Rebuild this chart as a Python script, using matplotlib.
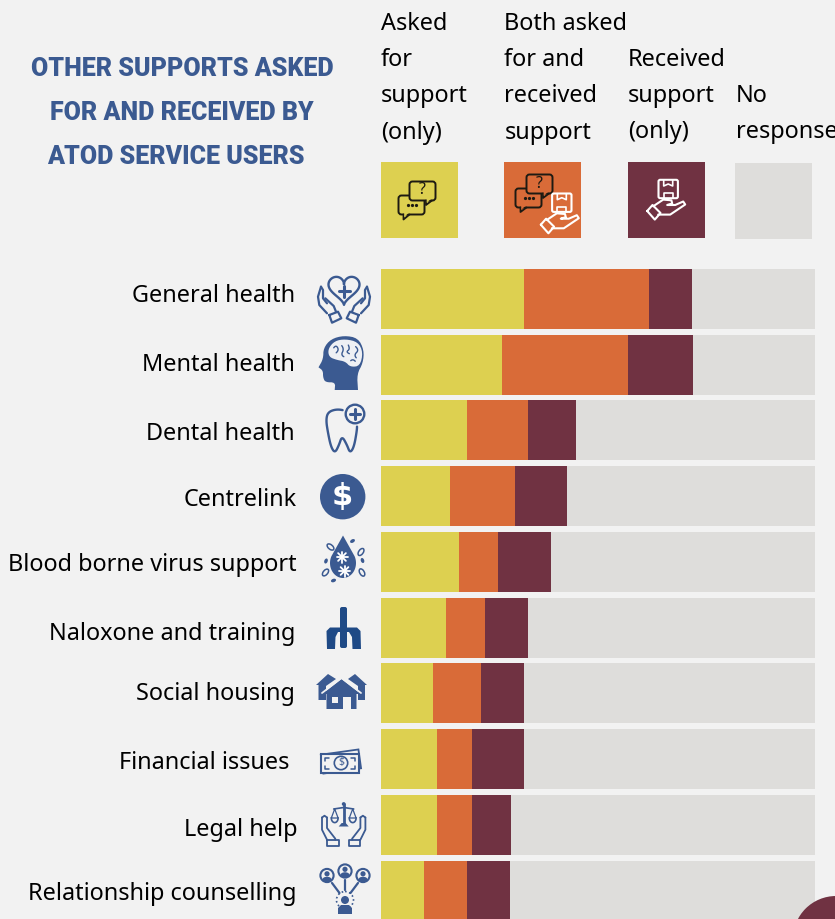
import numpy as np
import matplotlib
matplotlib.use('Agg')
import matplotlib.pyplot as plt
from matplotlib.patches import Circle, Ellipse, FancyBboxPatch, Polygon, Rectangle
from matplotlib.transforms import Affine2D

W, H = 835, 919

BG = '#f2f2f2'
BLUE = '#3b5a91'
YELLOW = '#ddd050'
ORANGE = '#d96b38'
MAROON = '#703242'
GREY = '#dedddb'
INK = '#1d1a12'

categories = ['General health', 'Mental health', 'Dental health', 'Centrelink',
              'Blood borne virus support', 'Naloxone and training', 'Social housing',
              'Financial issues', 'Legal help', 'Relationship counselling']

# percent of respondents in each group
asked_only = [32.9, 27.9, 19.8, 15.9, 18.0, 15.0, 12.0, 12.9, 12.9, 9.9]
both = [28.8, 29.0, 14.1, 15.0, 9.0, 9.0, 11.1, 8.1, 8.1, 9.9]
received_only = [9.9, 15.0, 11.1, 12.0, 12.2, 9.9, 9.9, 12.0, 9.0, 9.9]
no_response = [28.4, 28.1, 55.0, 57.1, 60.8, 66.1, 67.0, 67.0, 70.0, 70.3]

title_lines = ['OTHER SUPPORTS ASKED', 'FOR AND RECEIVED BY', 'ATOD SERVICE USERS']
legend_labels = ['Asked\nfor\nsupport\n(only)', 'Both asked\nfor and\nreceived\nsupport',
                 'Received\nsupport\n(only)', 'No\nresponse']

plt.rcParams['font.family'] = ['Noto Sans', 'DejaVu Sans']

fig = plt.figure(figsize=(W / 100, H / 100), dpi=100, facecolor=BG)


def smooth(pts, closed=False, rounds=3):
    # corner cutting, enough to round off the hand-placed icon outlines
    pts = np.asarray(pts, dtype=float)
    for _ in range(rounds):
        nxt = np.roll(pts, -1, axis=0)
        new = np.empty((len(pts) * 2, 2))
        new[0::2] = 0.75 * pts + 0.25 * nxt
        new[1::2] = 0.25 * pts + 0.75 * nxt
        pts = new if closed else new[:-2]
    return pts


def line(ax, pts, color=BLUE, lw=1.5, curve=False, closed=False, **kw):
    pts = smooth(pts, closed) if curve else np.asarray(pts, dtype=float)
    if closed:
        pts = np.vstack([pts, pts[:1]])
    ax.plot(pts[:, 0], pts[:, 1], color=color, lw=lw, solid_capstyle='round',
            solid_joinstyle='round', **kw)


def fill(ax, pts, color=BLUE, curve=False, **kw):
    pts = smooth(pts, True, 2) if curve else pts
    ax.add_patch(Polygon(pts, closed=True, fc=color, ec='none', **kw))


def mirror(pts, about):
    return [(2 * about - x, y) for x, y in pts]


def bubble(ax, x, y, w, h, tail, face, dots=False, question=False):
    # speech bubble with a small tail and either dots or a question mark
    tx = tail[0]
    fill(ax, [(tx - 1, y + h - 1), (tx, tail[1]), (tx + 6, y + h - 1)], face, zorder=3)
    line(ax, [(tx, y + h), (tx, tail[1]), (tx + 6, y + h)], INK, 1.3, zorder=4)
    ax.add_patch(FancyBboxPatch((x + 3, y + 3), w - 6, h - 6, boxstyle='round,pad=3',
                                fc=face, ec=INK, lw=1.4, zorder=3))
    fill(ax, [(tx + 0.7, y + h - 1.5), (tx + 0.7, tail[1] - 2.5), (tx + 5, y + h - 1.5)], face, zorder=4)
    if dots:
        ax.plot([x + 9, x + 13, x + 17], [y + h / 2] * 3, ls='none', marker='o', ms=1.3,
                color=INK, zorder=5)
    if question:
        ax.text(x + w / 2, y + h / 2 - 0.5, '?', ha='center', va='center', fontsize=11.5,
                color=INK, zorder=5)


def parcel_hand(ax, cx, cy, color='white'):
    # box held above an open hand, centred on the box
    ax.add_patch(FancyBboxPatch((cx - 8, cy - 7.5), 16, 15, boxstyle='round,pad=1.7',
                                fc='none', ec=color, lw=1.5, zorder=5))
    line(ax, [(cx - 4.5, cy - 9), (cx - 4.5, cy - 3), (cx, cy - 5), (cx + 4.5, cy - 3),
              (cx + 4.5, cy - 9)], color, 1.2, zorder=5)
    line(ax, [(cx - 4.5, cy + 9), (cx - 4.5, cy + 4), (cx + 4.5, cy + 4), (cx + 4.5, cy + 9)],
         color, 1.2, zorder=5)
    line(ax, [(cx - 21, cy + 22), (cx - 15.7, cy + 16), (cx - 7.7, cy + 24), (cx - 13.4, cy + 30.6),
              (cx - 21, cy + 22)], color, 1.5, zorder=5)
    line(ax, [(cx - 15, cy + 17.3), (cx - 5, cy + 10.6), (cx + 3.2, cy + 11.3), (cx + 4, cy + 14.5),
              (cx - 1, cy + 16), (cx + 7, cy + 16), (cx + 15, cy + 12.5), (cx + 17, cy + 15.5),
              (cx + 2, cy + 25.6), (cx - 10, cy + 25.6)], color, 1.5, zorder=5)


def icon_heart(ax):
    t = np.linspace(0, 2 * np.pi, 80)
    hx = 344 + 0.97 * 16 * np.sin(t) ** 3
    hy = 288.4 - 0.97 * (13 * np.cos(t) - 5 * np.cos(2 * t) - 2 * np.cos(3 * t) - np.cos(4 * t))
    ax.plot(hx, hy, color=BLUE, lw=1.7)
    line(ax, [(338.5, 291), (349.5, 291)], lw=2.2)
    line(ax, [(344, 285.5), (344, 296.5)], lw=2.2)
    outer = [(321, 286.7), (318, 296.7), (319.3, 305), (327, 313.3)]
    inner = [(321, 286.7), (323, 290), (323, 298.3), (327, 303.3)]
    finger = [(325.3, 298.3), (333.7, 306), (336, 311.7)]
    cuff = [(329.3, 315), (338, 311.7), (341.3, 318.3), (332, 322.7), (329.3, 315)]
    for shape in (outer, inner, finger, cuff):
        line(ax, shape, lw=1.6)
        line(ax, mirror(shape, 344), lw=1.6)


def icon_brain(ax):
    head = [(344, 335.5), (358, 338), (364, 350), (363, 363), (357, 374), (358, 390),
            (358, 390), (334.7, 390), (334.7, 390), (335.3, 382.3), (325.3, 382.3), (323, 377.3),
            (323, 370.7), (318.5, 367.3), (318.5, 367.3), (323.2, 359), (323.5, 348), (331, 339)]
    fill(ax, head, curve=True)
    fill(ax, [(328, 349), (334.5, 341), (345.3, 339), (358, 342), (363, 352.3),
              (360, 366), (350.3, 367), (345.3, 361.5), (337, 360), (329, 357)],
         '#eef0f4', curve=True)
    for pts in ([(332, 350), (336, 345), (339, 350), (334, 355)],
                [(340, 343), (344, 349), (341, 355), (346, 358)],
                [(347, 342), (350, 349), (346, 352), (352, 355)],
                [(353, 344), (359, 350), (354, 355), (358, 360)],
                [(349, 362), (353, 359), (357, 363)]):
        line(ax, pts, lw=1.0, curve=True)


def icon_tooth(ax):
    pts = [(347, 411), (337, 409), (328, 412), (326, 420), (328, 433), (331, 447), (335, 453),
           (339, 445), (342, 436), (347, 445), (350, 453), (354, 447), (357, 430), (357, 424)]
    line(ax, pts, lw=1.7, curve=True)
    ax.add_patch(Circle((355, 414), 9.3, fc='none', ec=BLUE, lw=1.7))
    line(ax, [(350, 414), (360, 414)], lw=2.2)
    line(ax, [(355, 409), (355, 419)], lw=2.2)


def icon_dollar(ax):
    ax.add_patch(Circle((342.7, 496.7), 22.7, fc=BLUE, ec='none'))
    ax.text(342.7, 497, '$', ha='center', va='center', color='white', fontsize=22,
            fontweight='bold', family='DejaVu Sans')


def icon_drop(ax):
    t = np.linspace(-0.15 * np.pi, 1.15 * np.pi, 40)
    arc = np.column_stack([343 + 13 * np.cos(t), 563 + 15 * np.sin(t)])
    fill(ax, np.vstack([arc, [(343, 535.5)]]))
    for cx, cy, r in ((342, 557, 5.5), (344.5, 571, 5.5)):
        for a in np.arange(8) * np.pi / 4:
            line(ax, [(cx, cy), (cx + r * np.cos(a), cy + r * np.sin(a))], 'white', 1.3)
    for cx, cy, a in ((330.5, 547, 50), (361, 552, -35), (325.5, 572.5, -40), (362, 572.5, 30)):
        ax.add_patch(Ellipse((cx, cy), 4.5, 8, angle=-a, fc='none', ec=BLUE, lw=1.1))
    for cx, cy, a in ((352.5, 541, 60), (326, 561, 20), (362.5, 560.5, -20), (333.5, 580.5, 70)):
        ax.add_patch(Ellipse((cx, cy), 3.4, 5.2, angle=a, fc=BLUE, ec='none'))


def icon_spray(ax):
    col = '#1f4a86'
    ax.add_patch(FancyBboxPatch((342, 609), 3, 37, boxstyle='round,pad=2', fc=col, ec='none'))
    fill(ax, [(327, 649), (326.5, 631), (330, 627.5), (357, 627.5), (360.5, 631), (361, 649),
              (352.5, 649), (352, 637), (349, 632), (338, 632), (335.5, 637), (335, 649)], col)


def icon_houses(ax):
    fill(ax, [(328, 674), (316, 685), (318.5, 685), (318.5, 700), (326, 700), (326, 686), (336, 679)])
    fill(ax, [(355, 674), (367, 685), (365, 685), (365, 700), (358, 700), (358, 686), (348, 679)])
    fill(ax, [(341.5, 679), (322, 694), (326.5, 694), (326.5, 709), (356.5, 709), (356.5, 694), (361, 694)],
         zorder=3)
    line(ax, [(322, 693), (341.5, 678), (361, 693)], BG, 1.3, zorder=4)
    ax.add_patch(Rectangle((332, 697), 6, 6, fc=BG, ec='none', zorder=5))
    ax.add_patch(Rectangle((342.5, 697), 8, 12, fc=BG, ec='none', zorder=5))


def icon_money(ax):
    back = Rectangle((322, 752), 38, 19, fc=BG, ec=BLUE, lw=1.3,
                     transform=Affine2D().rotate_deg_around(341, 762, -8) + ax.transData)
    ax.add_patch(back)
    ax.add_patch(Rectangle((321, 754), 38, 19, fc=BG, ec=BLUE, lw=1.5, zorder=3))
    ax.add_patch(Circle((341, 763), 6.7, fc=BG, ec=BLUE, lw=1.2, zorder=4))
    ax.text(341, 763, '$', ha='center', va='center', fontsize=7.5, color=BLUE, zorder=5)
    for x, y, sx, sy in ((325, 758, 1, 1), (355, 758, -1, 1), (325, 769, 1, -1), (355, 769, -1, -1)):
        line(ax, [(x + 4 * sx, y), (x, y), (x, y + 3 * sy)], lw=1.1, zorder=4)


def icon_scales(ax):
    cx = 343.7
    line(ax, [(cx, 804), (cx, 824)], lw=2.0)
    ax.add_patch(Circle((cx, 804), 1.9, fc=BLUE, ec='none'))
    fill(ax, [(cx - 2, 823), (cx + 2, 823), (cx + 5, 826.5), (cx - 5, 826.5)])
    line(ax, [(cx - 10, 809), (cx, 807.5), (cx + 10, 809)], lw=1.2)
    t = np.linspace(0, np.pi, 15)
    outer = [(322, 817.5), (322, 829.7), (327, 839.7)]
    inner = [(327, 817.5), (327, 828), (335.3, 838.7), (335.3, 839.7)]
    cap = [(322, 817.5), (324.5, 815.7), (327, 817.5)]
    cuff = [(327, 839.7), (338.7, 839.7), (338.7, 845.7), (327, 845.7), (327, 839.7)]
    for shape in (outer, inner, cap, cuff):
        line(ax, shape, lw=1.3)
        line(ax, mirror(shape, cx), lw=1.3)
    for px in (cx - 9, cx + 9):
        line(ax, [(px, 809), (px - 3.4, 818), (px + 3.4, 818), (px, 809)], lw=0.9)
        ax.plot(px + 3.4 * np.cos(t), 818 + 4.6 * np.sin(t), color=BLUE, lw=1.2)


def icon_people(ax):
    cx = 345
    for x, y in ((cx - 18, 875.5), (cx, 871), (cx + 18, 875.5)):
        ax.add_patch(Circle((x, y), 6.6, fc='none', ec=BLUE, lw=1.5))
        ax.add_patch(Circle((x, y - 1.7), 2.6, fc=BLUE, ec='none'))
        ax.add_patch(Ellipse((x, y + 4), 9, 5.5, fc=BLUE, ec='none'))
    line(ax, [(cx, 880), (cx, 890)], lw=1.6)
    line(ax, [(cx - 13, 883), (cx - 5.5, 893)], lw=1.6)
    line(ax, [(cx + 13, 883), (cx + 5.5, 893)], lw=1.6)
    ax.add_patch(Circle((cx, 900), 8.5, fc='none', ec=BLUE, lw=1.2, ls=(0, (1, 1.5))))
    ax.add_patch(Circle((cx, 900), 4, fc=BLUE, ec='none'))
    fill(ax, [(cx - 7, 914), (cx - 7, 908), (cx - 4, 905), (cx + 4, 905), (cx + 7, 908), (cx + 7, 914)])


# stacked bars, positioned by row index and percentage
bar_ax = fig.add_axes([381 / W, 0, 434 / W, (H - 266) / H])
bar_ax.set_xlim(0, 100)
bar_ax.set_ylim(9.43, -0.498)
bar_ax.axis('off')
rows = np.arange(len(categories))
left = np.zeros(len(categories))
for values, color in ((asked_only, YELLOW), (both, ORANGE), (received_only, MAROON), (no_response, GREY)):
    bar_ax.barh(rows, values, left=left, height=0.912, color=color, linewidth=0)
    left += np.array(values)

# everything around the bars is placed on a pixel grid
ax = fig.add_axes([0, 0, 1, 1], zorder=2)
ax.set_xlim(0, W)
ax.set_ylim(H, 0)
ax.axis('off')
ax.patch.set_alpha(0)

for txt, x, y in zip(title_lines, (182, 181.5, 176), (69, 113.5, 157.5)):
    ax.text(x, y, txt, ha='center', va='center', color=BLUE, fontsize=18, fontweight='black',
            family=['Roboto', 'Lato', 'DejaVu Sans'])

for txt, x, y in zip(legend_labels, (381, 504.5, 628, 736), (12, 12, 48, 84)):
    ax.text(x, y, txt, ha='left', va='top', fontsize=16.9, color='black', linespacing=1.68,
            clip_on=True)

legend_boxes = ((381, 162, YELLOW), (504, 162, ORANGE), (628, 162, MAROON), (735, 163, GREY))
for x, y, color in legend_boxes:
    ax.add_patch(Rectangle((x, y), 77, 76, fc=color, ec='none'))

bubble(ax, 398.5, 195.5, 26, 19, (403.5, 219.5), YELLOW, dots=True)
bubble(ax, 409.5, 181.5, 26, 19, (426, 205), YELLOW, question=True)
bubble(ax, 515.5, 188.5, 26, 19, (520.5, 212), ORANGE, dots=True)
bubble(ax, 526.5, 174.5, 26, 19, (543, 198), ORANGE, question=True)
parcel_hand(ax, 561.8, 202.7)
parcel_hand(ax, 668.2, 189)

label_right = (295, 295, 295, 297, 297, 295, 295, 289, 297, 297)
label_y = (296, 365, 434, 500, 565, 634, 694, 763, 830, 894)
for txt, x, y in zip(categories, label_right, label_y):
    ax.text(x, y, txt, ha='right', va='center', fontsize=16.9, color='black')

for draw in (icon_heart, icon_brain, icon_tooth, icon_dollar, icon_drop, icon_spray,
             icon_houses, icon_money, icon_scales, icon_people):
    draw(ax)

ax.add_patch(Circle((836, 939), 43, fc=MAROON, ec='none', zorder=6))

fig.savefig('out.png', dpi=100, facecolor=BG)
